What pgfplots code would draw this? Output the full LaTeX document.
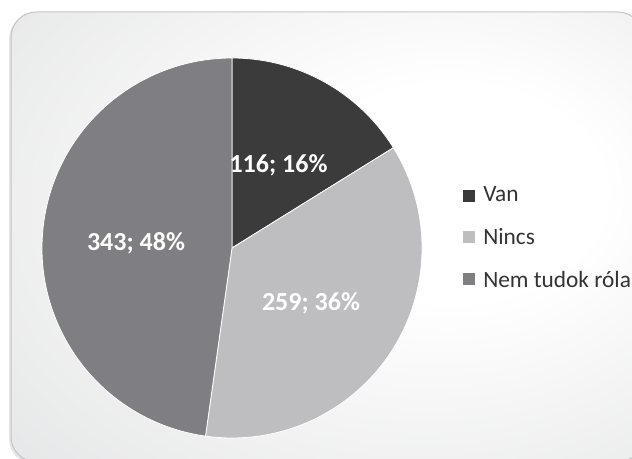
\documentclass[border=0pt]{standalone}
\usepackage{pgfplots}
\pgfplotsset{compat=1.18}
\usepackage{pgfplotstable}
\usepackage{fontspec}
\setmainfont{Carlito}
\definecolor{vancol}{HTML}{3B3B3B}
\definecolor{ninccol}{HTML}{BEBEC1}
\definecolor{nemcol}{HTML}{7F7F83}
\definecolor{bgedge}{HTML}{CDCED0}
\definecolor{txtcol}{HTML}{333333}
\definecolor{bordercol}{HTML}{C4C5C7}

\pgfdeclareradialshading{bgshade}{\pgfpoint{12bp}{6bp}}{color(0bp)=(white); color(12bp)=(white); color(70bp)=(bgedge)}

\pgfplotstableread{
label value
Van 116
Nincs 259
Nem 343
}\piedata

\pgfplotstablegetelem{0}{value}\of\piedata\let\vA\pgfplotsretval
\pgfplotstablegetelem{1}{value}\of\piedata\let\vB\pgfplotsretval
\pgfplotstablegetelem{2}{value}\of\piedata\let\vC\pgfplotsretval
\pgfmathsetmacro\tot{\vA+\vB+\vC}
\pgfmathsetmacro\aA{90-360*(\vA/\tot)}
\pgfmathsetmacro\aB{\aA-360*(\vB/\tot)}
\pgfmathsetmacro\aC{\aB-360*(\vC/\tot)}

\begin{document}
\begin{tikzpicture}
\begin{axis}[x=0.75pt, y=0.75pt, xmin=0, xmax=632, ymin=0, ymax=459,
  hide axis, clip=false]
\coordinate (ll) at (axis cs:0,0);
\coordinate (ur) at (axis cs:632,459);
% background
\fill[black!10, rounded corners=19pt] (axis cs:9,-5) rectangle (axis cs:641,445);
\shadedraw[shading=bgshade, draw=bordercol, line width=0.75pt, rounded corners=19pt]
  (axis cs:11,-3) rectangle (axis cs:643,447);
% pie
\filldraw[fill=vancol, draw=white, line width=0.6pt] (axis cs:232,211) --
  (axis cs:{232+190*cos(90)},{211+190*sin(90)}) arc[start angle=90, end angle=\aA, radius=142.5pt] -- cycle;
\filldraw[fill=ninccol, draw=white, line width=0.6pt] (axis cs:232,211) --
  (axis cs:{232+190*cos(\aA)},{211+190*sin(\aA)}) arc[start angle=\aA, end angle=\aB, radius=142.5pt] -- cycle;
\filldraw[fill=nemcol, draw=white, line width=0.6pt] (axis cs:232,211) --
  (axis cs:{232+190*cos(\aB)},{211+190*sin(\aB)}) arc[start angle=\aB, end angle=\aC, radius=142.5pt] -- cycle;
% data labels
\node[font=\bfseries\fontsize{19.5}{21}\selectfont, text=white] at (axis cs:278.5,293.5) {116; 16\%};
\node[font=\bfseries\fontsize{19.5}{21}\selectfont, text=white] at (axis cs:311,156) {259; 36\%};
\node[font=\bfseries\fontsize{19.5}{21}\selectfont, text=white] at (axis cs:136,216) {343; 48\%};
% legend
\fill[vancol] (axis cs:463,257) rectangle (axis cs:475,269);
\fill[ninccol] (axis cs:463,216) rectangle (axis cs:475,228);
\fill[nemcol] (axis cs:463,174) rectangle (axis cs:475,186);
\node[anchor=base west, inner sep=0pt, font=\fontsize{17.5}{19}\selectfont, text=txtcol] at (axis cs:483,257) {Van};
\node[anchor=base west, inner sep=0pt, font=\fontsize{17.5}{19}\selectfont, text=txtcol] at (axis cs:483,214) {Nincs};
\node[anchor=base west, inner sep=0pt, font=\fontsize{17.5}{19}\selectfont, text=txtcol] at (axis cs:483,171) {Nem tudok róla};
\end{axis}
\pgfresetboundingbox
\path[use as bounding box] (ll) rectangle (ur);
\end{tikzpicture}
\end{document}
